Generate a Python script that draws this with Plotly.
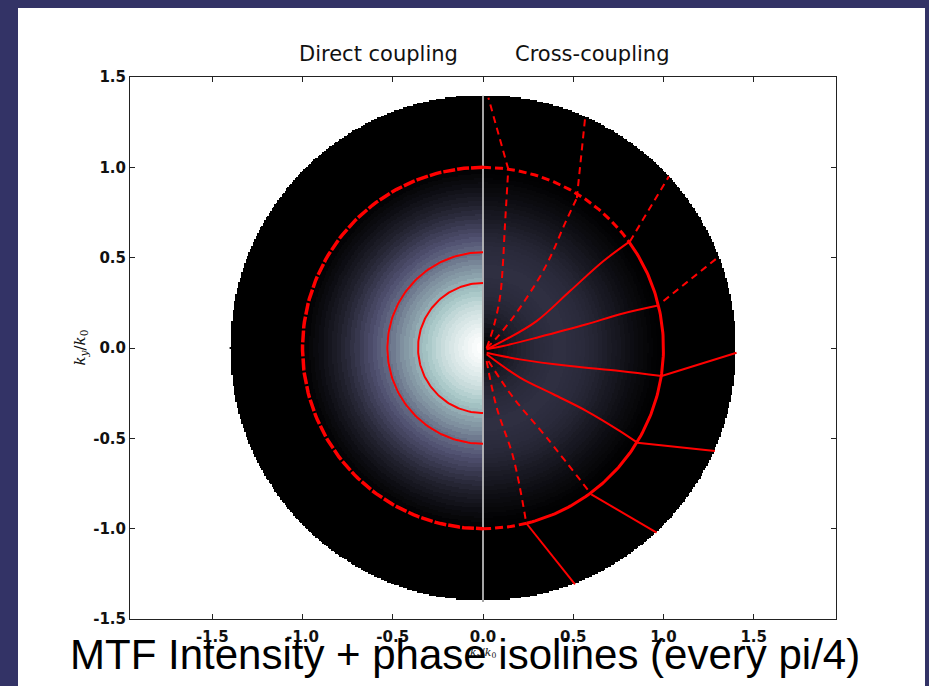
import numpy as np
import plotly.graph_objects as go

# ---------------- data ----------------
TICK_VALUES = [-1.5, -1.0, -0.5, 0.0, 0.5, 1.0, 1.5]
TICK_LABELS = ["-1.5", "-1.0", "-0.5", "0.0", "0.5", "1.0", "1.5"]

PUPIL_RADIUS = 1.4          # outer edge of the drawn disk (k/k0)
CUTOFF_RADIUS = 1.0         # MTF support

# radial intensity profiles (bone colormap fraction), sampled every 0.025
PROFILE_R = [round(0.025 * i, 3) for i in range(41)]
DIRECT_MTF = [1.00, 0.995, 0.98, 0.965, 0.95, 0.93, 0.91, 0.89, 0.87, 0.845,
              0.82, 0.79, 0.76, 0.73, 0.70, 0.665, 0.63, 0.60, 0.57, 0.535,
              0.50, 0.465, 0.43, 0.40, 0.37, 0.34, 0.31, 0.28, 0.25, 0.22,
              0.19, 0.165, 0.14, 0.12, 0.10, 0.08, 0.06, 0.045, 0.03, 0.015,
              0.00]
CROSS_MTF = [0.00, 0.02, 0.04, 0.06, 0.08, 0.10, 0.12, 0.135, 0.15, 0.16,
             0.17, 0.18, 0.19, 0.195, 0.20, 0.205, 0.21, 0.21, 0.21, 0.205,
             0.20, 0.195, 0.19, 0.18, 0.17, 0.16, 0.15, 0.135, 0.12, 0.11,
             0.10, 0.085, 0.07, 0.06, 0.05, 0.04, 0.03, 0.02, 0.01, 0.005,
             0.00]

# direct coupling phase isolines (circles, left half)
DIRECT_ISO_RADII = [0.36, 0.53]

# cross-coupling phase isolines (right half)
ISO_A_X = [0.02, 0.057, 0.094, 0.11, 0.12, 0.14]
ISO_A_Y = [0.00, 0.11, 0.28, 0.46, 0.65, 0.99]
ISO_A_OUT_X = [0.14, 0.03]
ISO_A_OUT_Y = [0.99, 1.385]

ISO_B_X = [0.02, 0.07, 0.16, 0.25, 0.33, 0.39, 0.45, 0.52]
ISO_B_Y = [0.00, 0.05, 0.16, 0.29, 0.42, 0.54, 0.68, 0.83]
ISO_B_OUT_X = [0.52, 0.565]
ISO_B_OUT_Y = [0.83, 1.266]

ISO_C_X = [0.02, 0.112, 0.297, 0.482, 0.666, 0.814]
ISO_C_Y = [-0.007, 0.039, 0.149, 0.315, 0.48, 0.59]
ISO_C_OUT_X = [0.814, 1.03]
ISO_C_OUT_Y = [0.59, 0.95]

ISO_D_X = [0.02, 0.112, 0.297, 0.574, 0.759, 0.97]
ISO_D_Y = [-0.007, 0.011, 0.057, 0.131, 0.187, 0.235]
ISO_D_OUT_X = [1.00, 1.30]
ISO_D_OUT_Y = [0.26, 0.50]

ISO_E_X = [0.02, 0.205, 0.482, 0.759, 0.99]
ISO_E_Y = [-0.026, -0.063, -0.10, -0.127, -0.155]
ISO_E_OUT_X = [0.99, 1.405]
ISO_E_OUT_Y = [-0.155, -0.026]

ISO_F_X = [0.02, 0.205, 0.39, 0.574, 0.759, 0.855]
ISO_F_Y = [-0.035, -0.164, -0.256, -0.349, -0.46, -0.524]
ISO_F_OUT_X = [0.855, 1.285]
ISO_F_OUT_Y = [-0.524, -0.57]

ISO_G_X = [0.03, 0.168, 0.353, 0.60]
ISO_G_Y = [-0.072, -0.275, -0.496, -0.81]
ISO_G_OUT_X = [0.60, 0.962]
ISO_G_OUT_Y = [-0.81, -1.022]

ISO_H_X = [0.02, 0.076, 0.168, 0.24]
ISO_H_Y = [-0.072, -0.33, -0.607, -0.97]
ISO_H_OUT_X = [0.24, 0.51]
ISO_H_OUT_Y = [-0.97, -1.308]

# unit circle on the right: angle ranges (deg) and style
UNIT_ARCS_RIGHT = [(90, 36, "dash"), (36, -76, "solid"), (-76, -90, "dash")]

TITLE = "MTF Intensity + phase isolines (every pi/4)"
LEFT_LABEL = "Direct coupling"
RIGHT_LABEL = "Cross-coupling"

# ---------------- build figure ----------------
RED = "#ff0000"
BONE = [[0.0, "rgb(0,0,0)"], [0.365, "rgb(81,81,113)"],
        [0.746, "rgb(166,198,198)"], [1.0, "rgb(255,255,255)"]]

step = 0.008
g = np.arange(-PUPIL_RADIUS, PUPIL_RADIUS + step / 2, step)
GX, GY = np.meshgrid(g, g)
R = np.hypot(GX, GY)
dr = PROFILE_R[1] - PROFILE_R[0]
idx = np.clip(np.rint(R / dr).astype(int), 0, len(PROFILE_R) - 1)
Z = np.where(GX < 0, np.array(DIRECT_MTF)[idx], np.array(CROSS_MTF)[idx])
Z[R > CUTOFF_RADIUS] = 0.0
Z = np.round(Z, 3).astype(object)
Z[R > PUPIL_RADIUS] = None

fig = go.Figure()
fig.add_trace(go.Heatmap(x=np.round(g, 4), y=np.round(g, 4), z=Z.tolist(),
                         colorscale=BONE, zmin=0, zmax=1, showscale=False,
                         hoverinfo="skip"))

# vertical separator
fig.add_trace(go.Scatter(x=[0, 0], y=[-PUPIL_RADIUS, PUPIL_RADIUS], mode="lines",
                         line=dict(color="#dcdcdc", width=1.5), hoverinfo="skip"))


def arc(r, a0, a1, dash, width):
    t = np.radians(np.linspace(a0, a1, 120))
    fig.add_trace(go.Scatter(x=r * np.cos(t), y=r * np.sin(t), mode="lines",
                             line=dict(color=RED, width=width, dash=dash),
                             hoverinfo="skip"))


for rr in DIRECT_ISO_RADII:
    arc(rr, 90, 270, "solid", 2)
arc(CUTOFF_RADIUS, 90, 270, "12px,2px", 3.5)
for a0, a1, st in UNIT_ARCS_RIGHT:
    arc(CUTOFF_RADIUS, a0, a1, "8px,4px" if st == "dash" else "solid", 3)


def iso(x, y, dash, smooth=True):
    fig.add_trace(go.Scatter(x=x, y=y, mode="lines",
                             line=dict(color=RED, width=2,
                                       dash="7px,5px" if dash else "solid",
                                       shape="spline" if smooth else "linear",
                                       smoothing=1.0),
                             hoverinfo="skip"))


iso(ISO_A_X, ISO_A_Y, True); iso(ISO_A_OUT_X, ISO_A_OUT_Y, True, False)
iso(ISO_B_X, ISO_B_Y, True); iso(ISO_B_OUT_X, ISO_B_OUT_Y, True, False)
iso(ISO_C_X, ISO_C_Y, False); iso(ISO_C_OUT_X, ISO_C_OUT_Y, True, False)
iso(ISO_D_X, ISO_D_Y, False); iso(ISO_D_OUT_X, ISO_D_OUT_Y, True, False)
iso(ISO_E_X, ISO_E_Y, False); iso(ISO_E_OUT_X, ISO_E_OUT_Y, False, False)
iso(ISO_F_X, ISO_F_Y, False); iso(ISO_F_OUT_X, ISO_F_OUT_Y, False, False)
iso(ISO_G_X, ISO_G_Y, True); iso(ISO_G_OUT_X, ISO_G_OUT_Y, False, False)
iso(ISO_H_X, ISO_H_Y, True); iso(ISO_H_OUT_X, ISO_H_OUT_Y, False, False)

axis_common = dict(tickvals=TICK_VALUES, ticktext=TICK_LABELS, ticks="inside",
                   ticklen=5, tickcolor="#222", showline=True, linecolor="#222",
                   linewidth=1, mirror="ticks", showgrid=False, zeroline=False,
                   tickfont=dict(family="DejaVu Sans", size=15, color="#111",
                                 weight="bold"))

W, H = 929, 686
L, Rm, T, B = 130, 93, 77, 67
fig.update_layout(
    width=W, height=H, margin=dict(l=L, r=Rm, t=T, b=B, autoexpand=False),
    paper_bgcolor="#333366", plot_bgcolor="white", showlegend=False,
    xaxis=dict(range=[-1.956, 1.956], ticklabelstandoff=4, **axis_common),
    yaxis=dict(range=[-1.5, 1.5], **axis_common),
)

pw, ph = W - L - Rm, H - T - B


def px(xp):
    return (xp - L) / pw


def py(yp):
    return (H - B - yp) / ph


fig.add_shape(type="rect", xref="paper", yref="paper", x0=px(18), x1=px(925),
              y0=py(686), y1=py(8), fillcolor="white", line=dict(width=0),
              layer="below")

fig.add_annotation(x=px(378), y=py(40), xref="paper", yref="paper", text=LEFT_LABEL,
                   showarrow=False, font=dict(family="DejaVu Sans", size=21, color="#111"))
fig.add_annotation(x=px(592), y=py(40), xref="paper", yref="paper", text=RIGHT_LABEL,
                   showarrow=False, font=dict(family="DejaVu Sans", size=21, color="#111"))
fig.add_annotation(x=px(68), y=0.5, xref="paper", yref="paper", textangle=-90,
                   text="<i>k</i><sub><i>y</i></sub>/<i>k</i><sub>0</sub>",
                   showarrow=False, font=dict(family="DejaVu Serif", size=15, color="#111"))
fig.add_annotation(x=0.0, y=py(662), xref="x", yref="paper",
                   text="<i>k</i><sub><i>x</i></sub>/<i>k</i><sub>0</sub>",
                   showarrow=False, font=dict(family="DejaVu Serif", size=11, color="#111"))
fig.add_annotation(x=px(465), y=py(680), xref="paper", yref="paper", text=TITLE,
                   showarrow=False,
                   font=dict(family="Liberation Sans Narrow, Arial Narrow, Liberation Sans",
                             size=42, color="black"))

fig.write_html("out.html")
